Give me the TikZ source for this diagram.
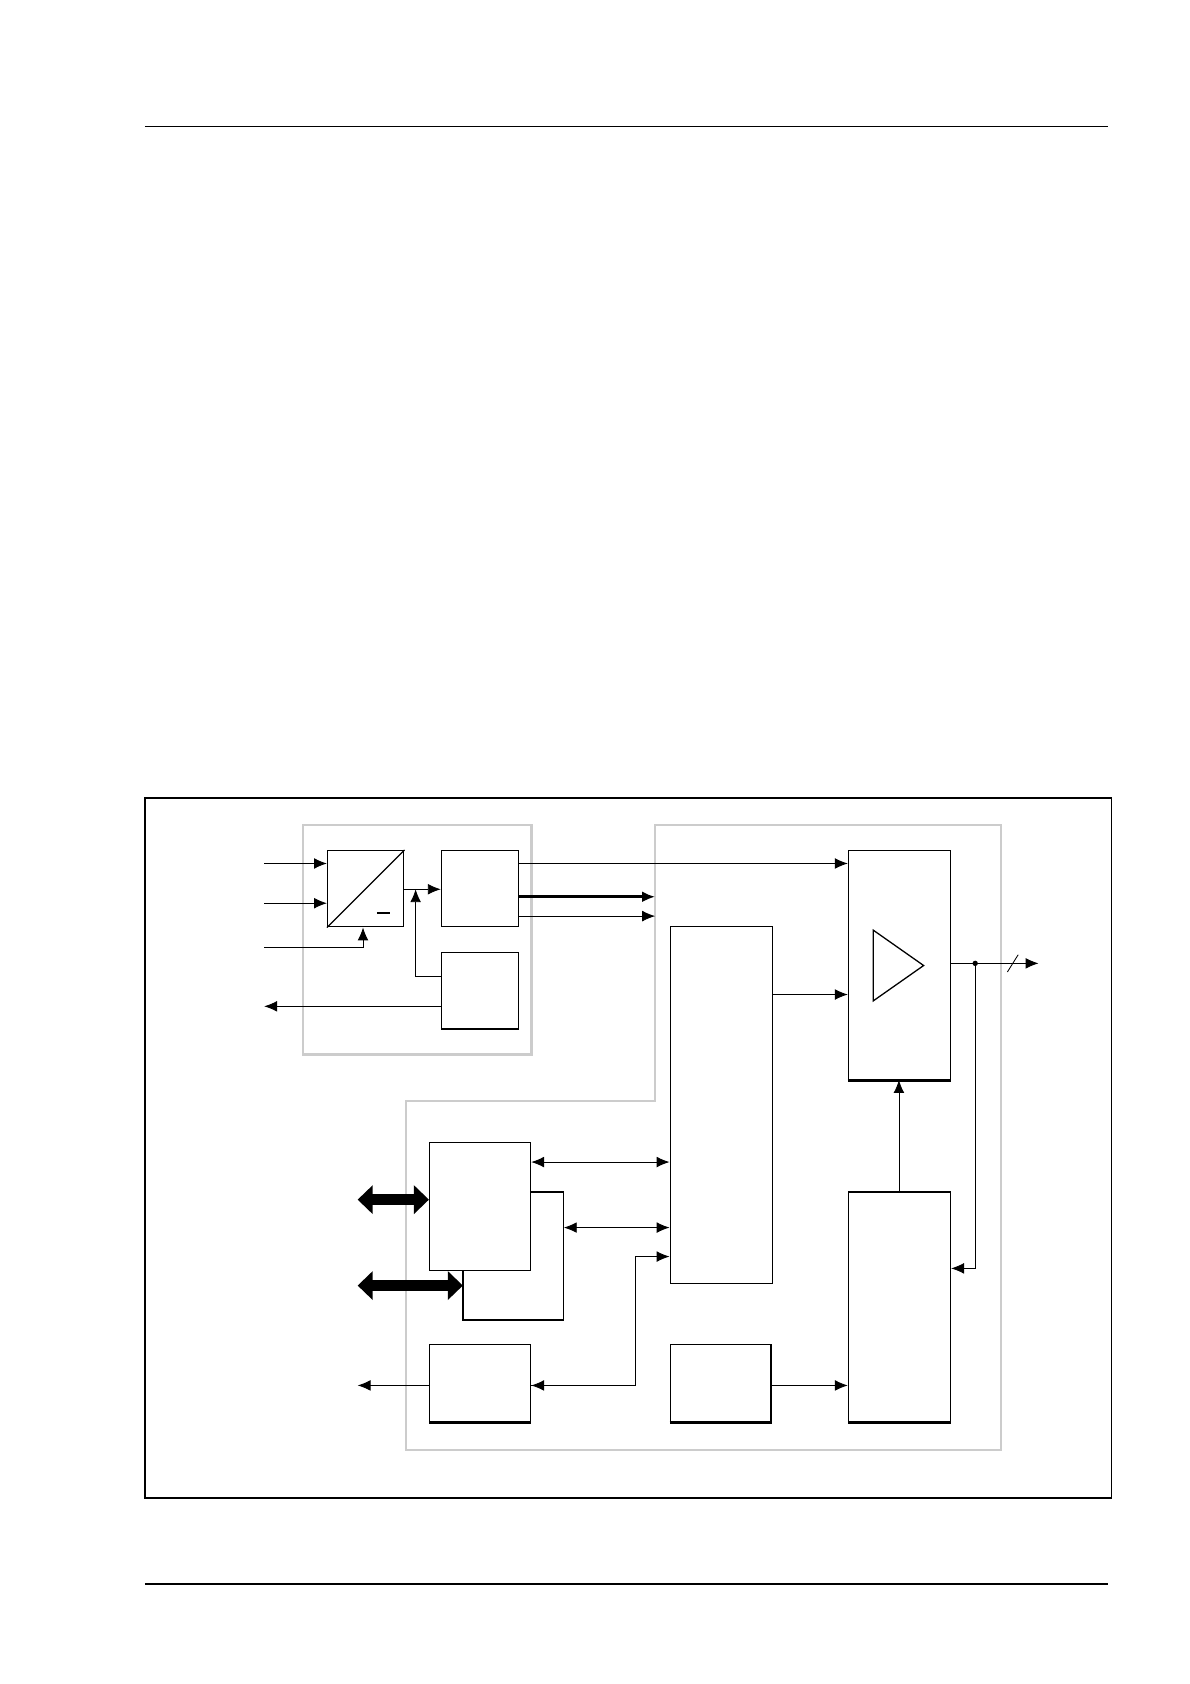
\documentclass[tikz,border=0pt]{standalone}
\usetikzlibrary{arrows.meta,fit}
\begin{document}
\begin{tikzpicture}[x=0.5pt,y=-0.5pt, >={Latex[length=6pt,width=5pt]},
    blk/.style={draw, line width=0.6pt, inner sep=0pt},
    grp/.style={draw=black!20, line width=1.2pt},
    bus/.style={line width=5pt, {Triangle[length=7pt,width=13pt]}-{Triangle[length=7pt,width=13pt]}}]
  \useasboundingbox (0,0) rectangle (1108,1568);
  \draw[line width=0.6pt] (135,118) -- (1032,118);
  \draw[line width=0.6pt] (135,1475) -- (1032,1475);
  \draw[line width=0.8pt] (135,743) rectangle (1035,1395);

  % group outlines
  \draw[grp] (282,768) rectangle (495,982);
  \draw[grp] (610,768) -- (932,768) -- (932,1350) -- (378,1350) -- (378,1025) -- (610,1025) -- cycle;

  % blocks
  \node[blk, fit={(305,792)(376,863)}] (adc) {};
  \node[blk, fit={(411,792)(483,863)}] (ctl) {};
  \node[blk, fit={(411,887)(483,958)}] (ref) {};
  \node[blk, fit={(790,792)(885,1005)}] (amp) {};
  \node[blk, fit={(624,863)(719,1195)}] (dsp) {};
  \node[blk, fit={(400,1064)(494,1183)}] (ifa) {};
  \node[blk, fit={(400,1252)(494,1324)}] (out) {};
  \node[blk, fit={(624,1252)(718,1324)}] (osc) {};
  \node[blk, fit={(790,1110)(885,1324)}] (pwr) {};
  \draw[line width=1.4pt] (amp.south west) -- (amp.south east);
  \draw[line width=1.4pt] (out.south west) -- (out.south east);
  \draw[line width=1.4pt] (osc.south west) -- (osc.south east);
  \draw[line width=1.4pt] (pwr.south west) -- (pwr.south east);
  \draw[line width=0.6pt] (adc.south west) -- (adc.north east);
  \draw[line width=1pt] (351,850) -- (363,850);
  \draw[line width=0.6pt] (813,866) -- (813,932) -- (860,899) -- cycle;
  \draw[line width=0.6pt] (494,1110) -- (525,1110) -- (525,1229) -- (431,1229) -- (431,1183);
  \coordinate (ifb) at (525,1143);

  % signal lines
  \draw[->] (246,804) -- (adc.west |- 0,804);
  \draw[->] (246,841) -- (adc.west |- 0,841);
  \draw[->] (246,882) -- (338,882) -- (adc.south -| 338,0);
  \draw[->] (adc.east |- 0,828) -- (ctl.west |- 0,828);
  \draw[->] (ref.west |- 0,909) -- (387,909) -- (387,828);
  \draw[->] (ref.west |- 0,937) -- (246,937);
  \draw[->] (ctl.east |- 0,804) -- (amp.west |- 0,804);
  \draw[->, line width=1.4pt] (ctl.east |- 0,835) -- (610,835);
  \draw[->] (ctl.east |- 0,853) -- (610,853);
  \draw[->] (dsp.east |- 0,926) -- (amp.west |- 0,926);
  \draw[->] (amp.east |- 0,897) -- (967,897);
  \draw (938,905) -- (948,889);
  \fill (908,897) circle (2.5);
  \draw[->] (908,897) -- (908,1181) -- (pwr.east |- 0,1181);
  \draw[->] (pwr.north -| 837,0) -- (amp.south -| 837,0);
  \draw[<->] (ifa.east |- 0,1082) -- (dsp.west |- 0,1082);
  \draw[<->] (ifb) -- (dsp.west |- ifb);
  \draw[->] (out.east |- 0,1290) -- (592,1290) -- (592,1170) -- (dsp.west |- 0,1170);
  \draw[<-] (out.east |- 0,1290) -- (592,1290);
  \draw[->] (out.west |- 0,1290) -- (333,1290);
  \draw[->] (osc.east |- 0,1290) -- (pwr.west |- 0,1290);
  \draw[bus] (333,1117) -- (ifa.west |- 0,1117);
  \draw[bus] (333,1197) -- (431,1197);
\end{tikzpicture}
\end{document}
